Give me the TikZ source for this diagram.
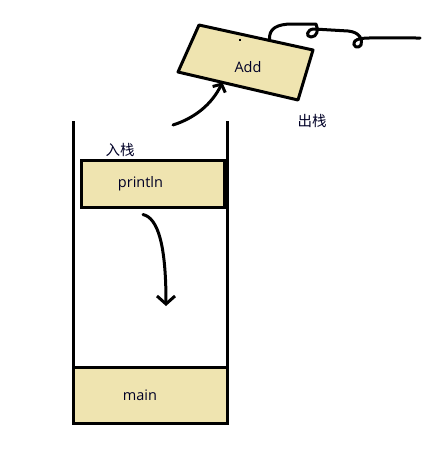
\documentclass[tikz,border=0pt]{standalone}
\usepackage{fontspec}
\setmainfont{Open Sans}
\newfontfamily\cjk{Noto Sans CJK SC}
\usepackage{xcolor}
\definecolor{paintTan}{HTML}{EFE4B0}
\usetikzlibrary{arrows.meta, positioning, calc}

\begin{document}
\begin{tikzpicture}[
    x=1pt, y=-1pt,
    stackbox/.style={draw=black, fill=paintTan, rectangle, line width=3pt, inner sep=0pt},
    word/.style={font=\fontsize{14.5}{17}\selectfont, text=black!85!blue, inner sep=0pt},
    hand/.style={line width=3pt, line cap=round, line join=round},
    arrow/.style={hand, -{Straight Barb[length=8pt, width=18pt]}}
]
\useasboundingbox (0,0) rectangle (443,453);

% the stack
\node (mainbox) [stackbox, minimum width=154pt, minimum height=56pt] at (150,395) {};
\node (println) [stackbox, minimum width=143pt, minimum height=47pt] at (152.5,183.5) {};
\draw[line width=3pt] (73,121) -- (73,423) -- (227,423) -- (227,121);
\node (maintxt) [word] at ([xshift=-10pt]mainbox.center) {main};
\node (printtxt) [word] at ([xshift=-12pt]println.center) {println};
\node (push) [word, font=\cjk\fontsize{14.5}{17}\selectfont] at (120,150) {入栈};

% popped frame, a bit skewed
\coordinate (addNW) at (199,25);
\coordinate (addNE) at (313,50);
\coordinate (addSE) at (298,100);
\coordinate (addSW) at (178,72);
\filldraw[fill=paintTan, line width=3pt, line join=round] (addNW) -- (addNE) -- (addSE) -- (addSW) -- cycle;
\fill (239,39) rectangle (241,41);
\node (addtxt) [word] at (248,67) {Add};
\node (pop) [word, font=\cjk\fontsize{14.5}{17}\selectfont] at (312,121) {出栈};

% arrows
\coordinate (rise) at (173,125);
\coordinate (drop) at (166,306);
\coordinate (tail) at (420,38);
\draw[arrow, -{Straight Barb[length=6pt, width=14pt]}] (rise) .. controls (195,118) and (212,104) .. ($(addSW)!0.37!(addSE)$);
\draw[arrow] ([shift={(-9.5,6)}]println.south) .. controls (158,218) and (166,245) .. (drop);
\draw[hand] ($(addNW)!0.62!(addNE)$) .. controls (268,28) and (278,24) .. (292,24) -- (316,24)
    .. controls (319,30) and (317,37) .. (311,37) .. controls (305,37) and (307,29) .. (314,29)
    -- (348,31) .. controls (360,32) and (363,40) .. (361,45) .. controls (359,49) and (351,47) .. (355,41)
    .. controls (360,37) and (366,38) .. (tail);

\end{tikzpicture}
\end{document}
